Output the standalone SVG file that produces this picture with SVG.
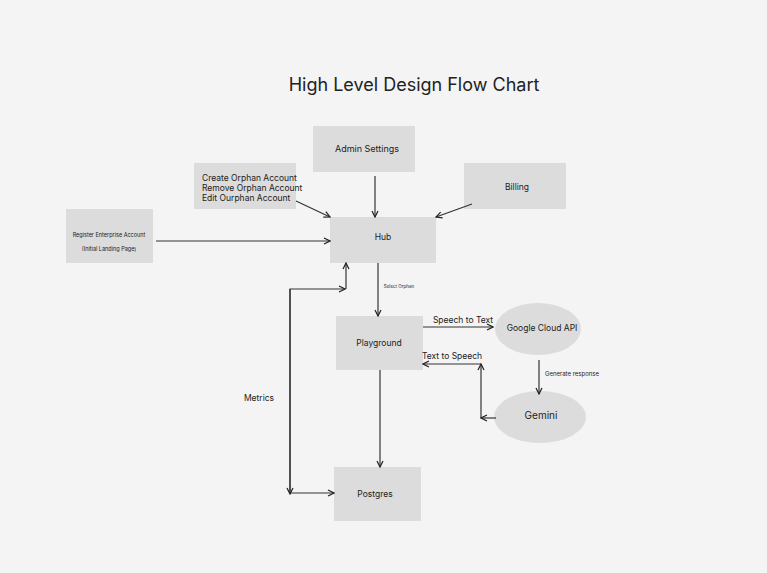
<svg xmlns="http://www.w3.org/2000/svg" width="767" height="573" viewBox="0 0 767 573">
<defs>
<marker id="a" markerWidth="8" markerHeight="8" refX="7" refY="4" orient="auto" markerUnits="userSpaceOnUse"><path d="M1,1 L7,4 L1,7" fill="none" stroke="#222" stroke-width="1.2"/></marker>
<style>
text{font-family:Inter,"Liberation Sans",sans-serif;fill:#222;text-anchor:middle}
.b{fill:#dcdcdc}
.c{fill:none;stroke:#333;stroke-width:1.2;marker-end:url(#a)}
.l{fill:none;stroke:#333;stroke-width:1.2}
</style>
</defs>
<rect width="767" height="573" fill="#f4f4f4"/>
<text x="414" y="91" font-size="18">High Level Design Flow Chart</text>
<g id="admin"><rect class="b" x="313" y="126" width="102" height="46"/><text x="367" y="152" font-size="9">Admin Settings</text></g>
<g id="orphan"><rect class="b" x="194" y="163" width="102" height="46"/><text x="202" y="181" font-size="8.5" style="text-anchor:start">Create Orphan Account</text><text x="202" y="191" font-size="8.5" style="text-anchor:start">Remove Orphan Account</text><text x="202" y="201" font-size="8.5" style="text-anchor:start">Edit Ourphan Account</text></g>
<g id="billing"><rect class="b" x="464" y="163" width="102" height="46"/><text x="517" y="190" font-size="8.5">Billing</text></g>
<g id="register"><rect class="b" x="66" y="209" width="87" height="54"/><text x="109" y="237" font-size="5.5">Register Enterprise Account</text><text x="109" y="251" font-size="5.5">(Initial Landing Page)</text></g>
<g id="hub"><rect class="b" x="330" y="217" width="106" height="46"/><text x="383" y="240" font-size="8.5">Hub</text></g>
<g id="playground"><rect class="b" x="336" y="316" width="87" height="54"/><text x="379" y="346" font-size="8.5">Playground</text></g>
<g id="postgres"><rect class="b" x="334" y="467" width="87" height="54"/><text x="375" y="497" font-size="8.5">Postgres</text></g>
<g id="google"><ellipse class="b" cx="538" cy="329" rx="43" ry="26"/><text x="542" y="331" font-size="8.5">Google Cloud API</text></g>
<g id="gemini"><ellipse class="b" cx="540" cy="417" rx="46" ry="26"/><text x="541" y="419" font-size="10">Gemini</text></g>
<g id="connectors">
<path class="c" d="M375,176 L375,217"/>
<path class="c" d="M296,201 L330,217"/>
<path class="c" d="M472,204 L436,217"/>
<path class="c" d="M156,241 L330,241"/>
<path class="c" d="M378,263 L378,316"/>
<text x="399" y="288" font-size="4.5">Select Orphan</text>
<path class="c" d="M290,494 L290,289 L345,289"/>
<path class="c" d="M346,289 L346,263"/>
<path class="c" d="M290,289 L290,494"/>
<path class="c" d="M290,493 L334,493"/>
<text x="259" y="401" font-size="8.5">Metrics</text>
<path class="c" d="M423,327 L493,327"/>
<text x="463" y="323" font-size="8.5">Speech to Text</text>
<path class="c" d="M539,360 L539,394"/>
<text x="572" y="376" font-size="6">Generate response</text>
<path class="c" d="M496,418 L481,418"/>
<path class="c" d="M481,418 L481,364"/>
<path class="c" d="M481,364 L423,364"/>
<text x="452" y="359" font-size="8.5">Text to Speech</text>
<path class="c" d="M380,370 L380,467"/>
</g>
</svg>
